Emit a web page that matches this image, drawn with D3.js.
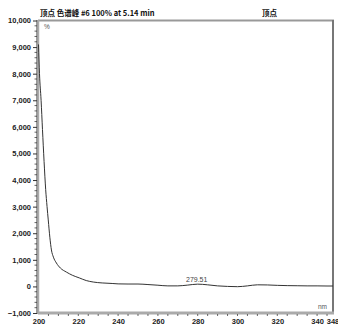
<!DOCTYPE html>
<html><head><meta charset="utf-8">
<script src="https://cdn.jsdelivr.net/npm/d3@7"></script>
<style>body{margin:0;background:#fff;} svg{display:block;}</style>
</head><body>
<script>
const wavelengths = [200,200.5,201.3,202,202.8,203.6,204.3,204.9,205.7,206.5,207.5,209,211,214,217,220.5,224,227.5,232,237,240,245,250,255,260,265,270,275,280,285,290,295,300,305,310,315,320,325,330,335,340,345,348];
const absorbance  = [9100,8000,7000,5900,4700,3650,3000,2500,1850,1370,1100,880,690,540,420,320,220,165,130,110,95,90,90,70,45,20,20,50,85,60,20,0,-10,20,60,55,40,30,25,20,20,15,15];
const xTickValues = [200,220,240,260,280,300,320,340];
const xEndLabel = "348";
const yTickValues = [-1000,0,1000,2000,3000,4000,5000,6000,7000,8000,9000,10000];
const titleLeft = "顶点 色谱峰 #6 100% at 5.14 min";
const titleRight = "顶点";
const peakLabel = "279.51";
const peakNm = 279.51;

const W = 338, H = 329;
const svg = d3.select("body").append("svg").attr("width", W).attr("height", H);
const x = d3.scaleLinear().domain([200, 348]).range([38.5, 333]);
const y = d3.scaleLinear().domain([-1000, 10000]).range([313, 20.5]);
const font = "Liberation Sans, Arial, sans-serif";

// frame
svg.append("line").attr("x1", 38).attr("x2", 334).attr("y1", 20.5).attr("y2", 20.5).attr("stroke", "#999").attr("stroke-width", 2);
svg.append("line").attr("x1", 333).attr("x2", 333).attr("y1", 20).attr("y2", 313).attr("stroke", "#777").attr("stroke-width", 2);
svg.append("line").attr("x1", 38).attr("x2", 334).attr("y1", 313).attr("y2", 313).attr("stroke", "#aaa").attr("stroke-width", 3);

// y axis
const yAxis = d3.axisLeft(y).tickValues(yTickValues).tickSize(4).tickFormat(d3.format(","));
const gy = svg.append("g").attr("transform", "translate(37,0)").call(yAxis);
gy.select(".domain").remove();
gy.selectAll("text").attr("font-family", font).attr("font-size", 7.5).attr("font-weight", "bold").attr("fill", "#222").attr("x", -6);
gy.selectAll("line").attr("stroke", "#333");
const yMinor = d3.range(-1000, 10001, 200).filter(v => v % 1000 !== 0);
svg.append("g").selectAll("line").data(yMinor).join("line")
  .attr("x1", 34.5).attr("x2", 37).attr("y1", d => y(d)).attr("y2", d => y(d)).attr("stroke", "#444").attr("stroke-width", 0.8);
svg.append("line").attr("x1", 37).attr("x2", 37).attr("y1", 20).attr("y2", 314).attr("stroke", "#333").attr("stroke-width", 1);
svg.append("line").attr("x1", 38.5).attr("x2", 38.5).attr("y1", 20).attr("y2", 314).attr("stroke", "#aaa").attr("stroke-width", 1.5);

// x axis
const xAxis = d3.axisBottom(x).tickValues(xTickValues).tickSize(0).tickFormat(d3.format("d"));
const gx = svg.append("g").attr("transform", "translate(0,314)").call(xAxis);
gx.select(".domain").remove();
gx.selectAll("text").attr("font-family", font).attr("font-size", 7.5).attr("font-weight", "bold").attr("fill", "#222").attr("y", 5);
svg.append("text").attr("x", x(348)).attr("y", 314 + 5).attr("dy", "0.71em").attr("text-anchor", "middle")
  .attr("font-family", font).attr("font-size", 7.5).attr("font-weight", "bold").attr("fill", "#222").text(xEndLabel);
const xMinor = d3.range(205, 348, 5);
svg.append("g").selectAll("line").data(xMinor).join("line")
  .attr("x1", d => x(d)).attr("x2", d => x(d)).attr("y1", 314).attr("y2", 316).attr("stroke", "#444").attr("stroke-width", 0.8);

// curve
const line = d3.line().x((d, i) => x(wavelengths[i])).y(d => y(d)).curve(d3.curveMonotoneX);
svg.append("path").datum(absorbance).attr("d", line).attr("fill", "none").attr("stroke", "#333").attr("stroke-width", 1);

// texts
svg.append("text").attr("x", 40).attr("y", 16).attr("font-family", "Noto Sans CJK SC, sans-serif").attr("font-size", 7.5).attr("font-weight", "bold").attr("fill", "#111").text(titleLeft);
svg.append("text").attr("x", 262).attr("y", 16).attr("font-family", "Noto Sans CJK SC, sans-serif").attr("font-size", 7.5).attr("font-weight", "bold").attr("fill", "#111").text(titleRight);
svg.append("text").attr("x", 44).attr("y", 29).attr("font-family", font).attr("font-size", 6.5).attr("fill", "#555").text("%");
svg.append("text").attr("x", x(peakNm)).attr("y", 282).attr("text-anchor", "middle").attr("font-family", font).attr("font-size", 7).attr("fill", "#444").text(peakLabel);
svg.append("text").attr("x", 318).attr("y", 309).attr("font-family", font).attr("font-size", 6.5).attr("fill", "#555").text("nm");
</script>
</body></html>
